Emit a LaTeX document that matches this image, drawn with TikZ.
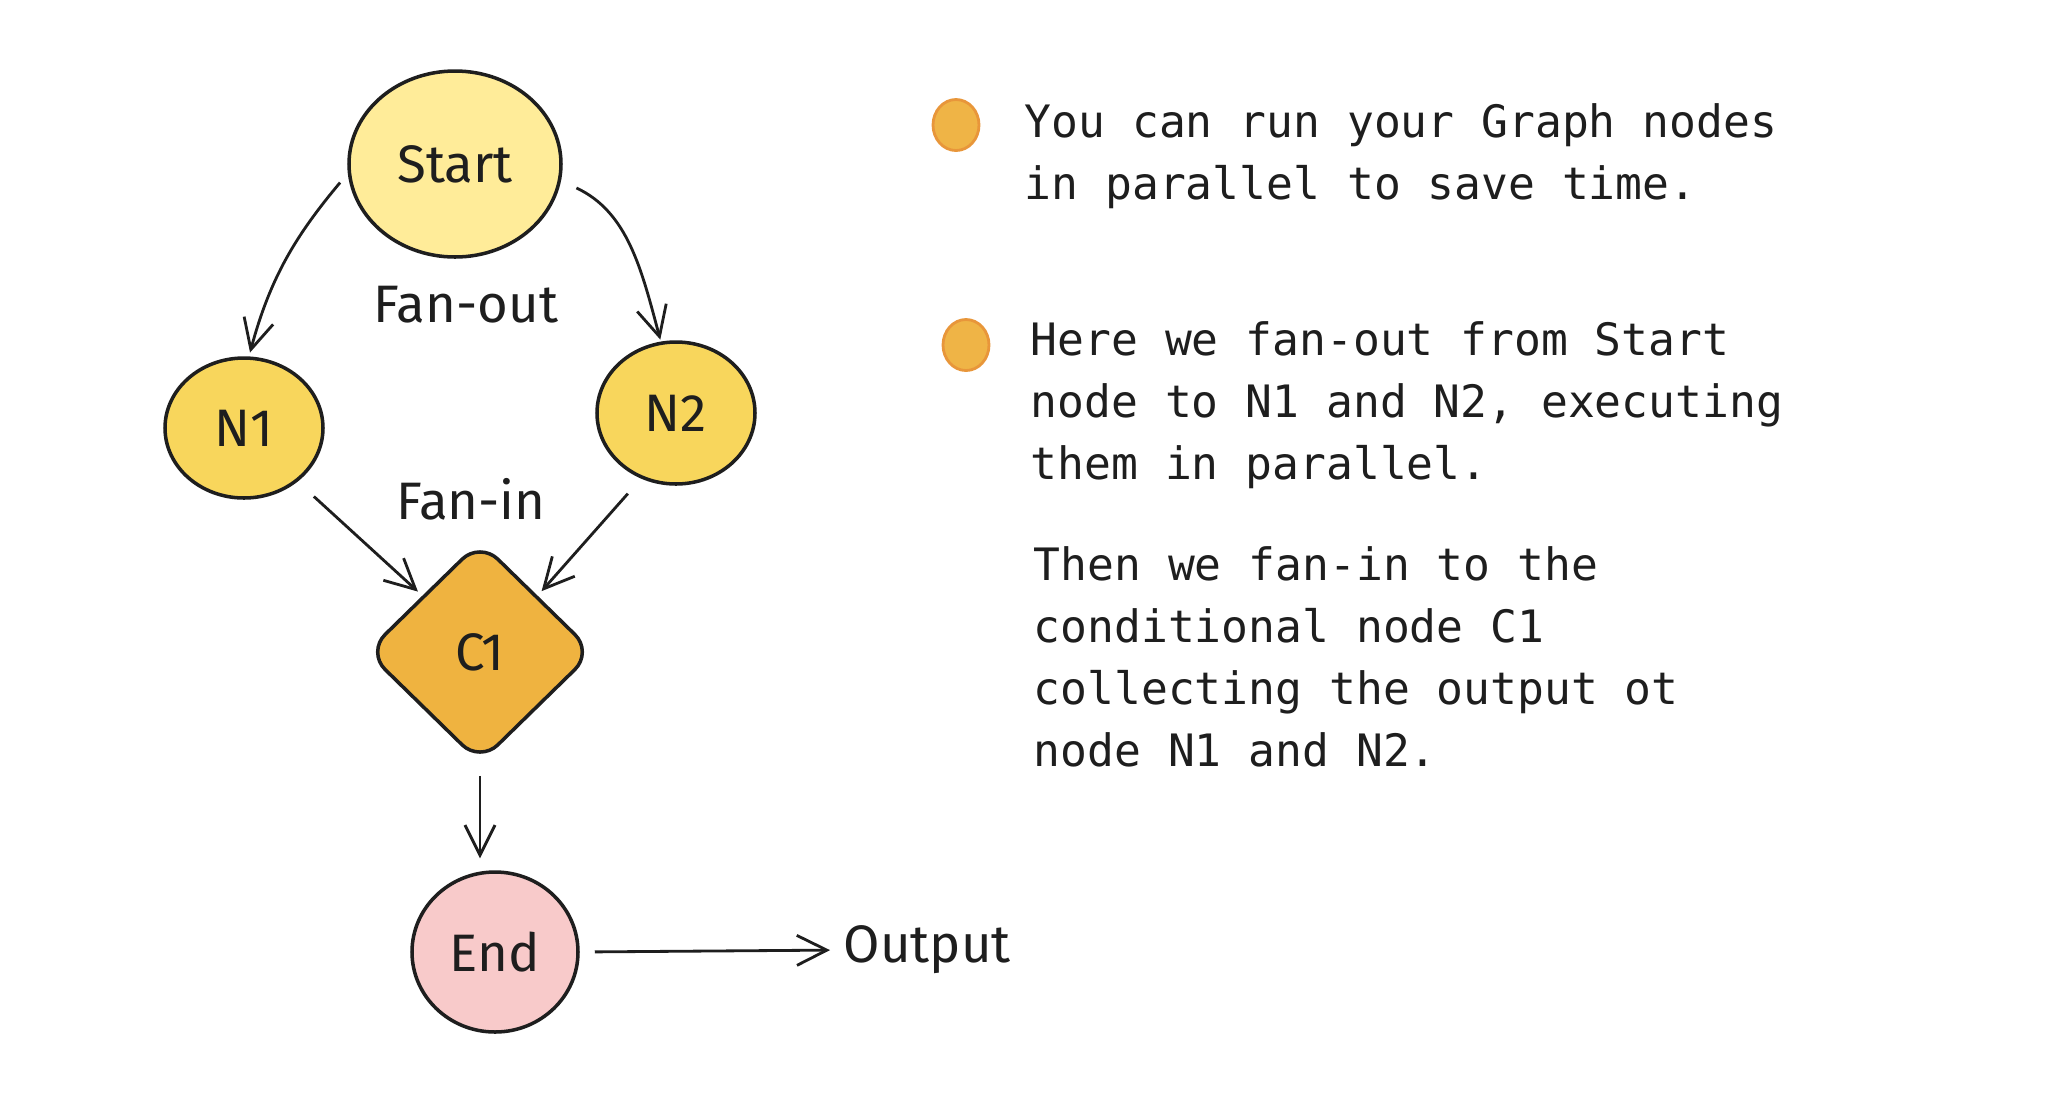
\documentclass[tikz,border=0pt]{standalone}
\usepackage{fontspec}
\setmainfont{Fira Sans}
\setmonofont{DejaVu Sans Mono}
\usepackage{tikz}
\usetikzlibrary{arrows.meta,positioning,shapes.geometric}

\definecolor{inkline}{HTML}{1E1E1E}
\definecolor{startfill}{HTML}{FFEC99}
\definecolor{workfill}{HTML}{F8D65C}
\definecolor{condfill}{HTML}{EFB340}
\definecolor{endfill}{HTML}{F8CACA}
\definecolor{dotfill}{HTML}{EFB446}
\definecolor{dotline}{HTML}{E8963A}

\begin{document}
\begin{tikzpicture}[x=0.1mm, y=-0.1mm,
    every node/.style={text=inkline},
    graphnode/.style={ellipse, draw=inkline, line width=1pt, inner sep=0pt,
        font=\fontsize{15}{18}\selectfont},
    condnode/.style={diamond, draw=inkline, line width=1pt, inner sep=0pt,
        rounded corners=2.5mm, fill=condfill, minimum width=22.7mm, minimum height=22.2mm,
        font=\fontsize{15}{18}\selectfont},
    flowlabel/.style={inner sep=0pt, font=\fontsize{15}{18}\selectfont},
    dotmark/.style={ellipse, draw=dotline, line width=0.8pt, fill=dotfill,
        minimum width=4.6mm, minimum height=5.1mm, inner sep=0pt},
    note/.style={inner sep=0pt, align=left, anchor=base west,
        font=\ttfamily\fontsize{12.7}{17.55}\selectfont}]

    \useasboundingbox[fill=white] (0,0) rectangle (2058,1118);

    % Graph nodes
    \node[graphnode, fill=startfill, minimum width=21.2mm, minimum height=18.6mm] (Start) at (455,164) {Start};
    \node[graphnode, fill=workfill, minimum width=15.8mm, minimum height=14mm] (N1) at (244,428) {N1};
    \node[graphnode, fill=workfill, minimum width=15.8mm, minimum height=14.2mm] (N2) at (676,413) {N2};
    \node[condnode] (C1) at (480,652) {C1};
    \node[graphnode, fill=endfill, minimum width=16.6mm, minimum height=16mm] (End) at (495,952) {End};

    % Labels
    \node[flowlabel] (fanout) at (466,305) {Fan-out};
    \node[flowlabel] (fanin) at (471,499) {Fan-in};
    \node[flowlabel, anchor=west] (Output) at (843,950) {Output};

    % Transitions
    \path[-{Straight Barb[length=3mm, width=3mm]}, inkline, line width=0.8pt]
    (Start.185) edge[out=-130, in=75, shorten <=1.2mm, shorten >=0.4mm] (N1.86)
    (Start.-9) edge[out=-25, in=105, shorten <=1.7mm, shorten >=0.2mm] (N2.102)
    (N1.-45) edge[shorten <=2.2mm, shorten >=0.6mm] (C1.north west)
    (N2.-118) edge[shorten <=2mm, shorten >=0.6mm] (C1.north east)
    (C1.south) edge[shorten <=1.1mm, shorten >=1.2mm] (C1.south |- End.north)
    (End.east) edge[shorten <=1.5mm, shorten >=1.3mm] (Output.west);

    % Notes on the right (anchored at the last line)
    \node[dotmark] (dot1) at (956,125) {};
    \node[dotmark] (dot2) at (966,345) {};
    \node[note] (note1) at (1024,199) {You can run your Graph nodes\\in parallel to save time.};
    \node[note] (note2) at (1030,479) {Here we fan-out from Start\\node to N1 and N2, executing\\them in parallel.};
    \node[note] (note3) at (1033,766) {Then we fan-in to the\\conditional node C1\\collecting the output ot\\node N1 and N2.};

\end{tikzpicture}
\end{document}
